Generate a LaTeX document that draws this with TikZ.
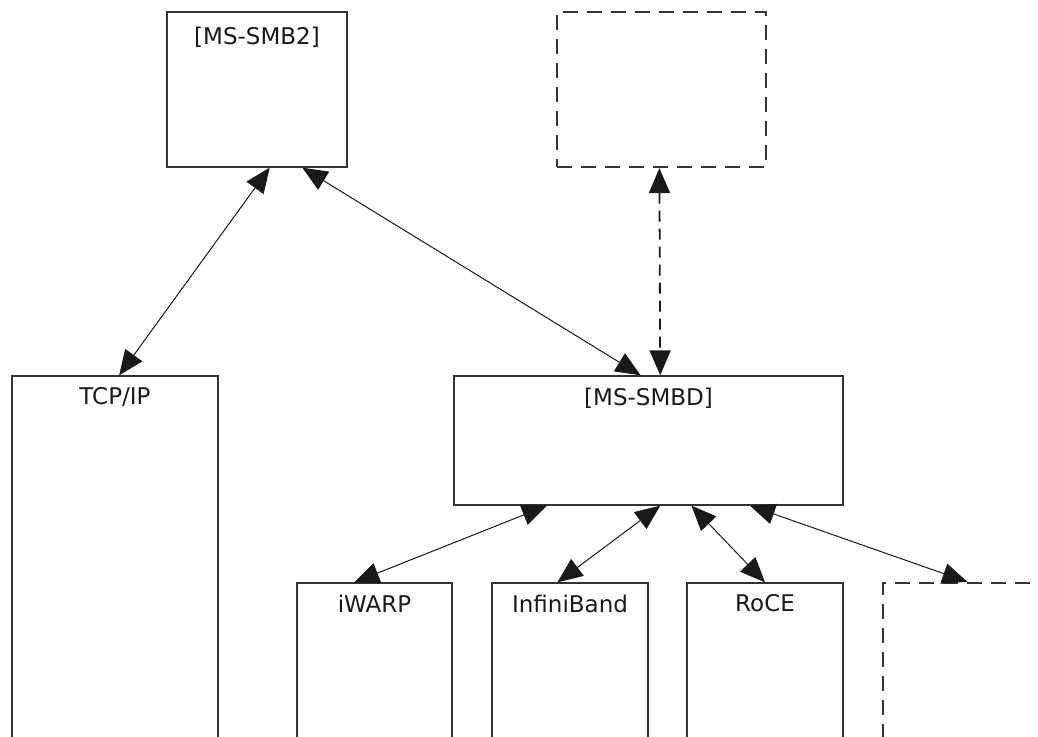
\documentclass[tikz,border=0pt]{standalone}
\usepackage{fontspec}
\setmainfont{DejaVu Sans}
\usetikzlibrary{arrows.meta,calc,positioning}

\tikzset{
  box/.style={draw=black!80,line width=1.3pt,rectangle,inner sep=0pt},
  extbox/.style={box,dash pattern=on 15pt off 9pt,line width=2.2pt},
  boxtext/.style={font=\fontsize{23}{27}\selectfont,text=black!90,inner sep=0pt,anchor=north},
  link/.style={line width=1pt,draw=black!90,
    {Triangle[length=25pt,width=21pt]}-{Triangle[length=25pt,width=21pt]}},
  extlink/.style={link,dash pattern=on 11pt off 7pt,line width=1.8pt}
}

\begin{document}
\begin{tikzpicture}[x=1pt,y=-1pt]
\useasboundingbox (0,0) rectangle (1038,736);
\clip (0,0) rectangle (1038,736);

% upper row
\node[box,minimum width=180pt,minimum height=155pt] (smb2) at (257,89.5) {};
\node[extbox,minimum width=209pt,minimum height=155pt] (ext) at (661.5,89.5) {};

% middle row
\node[box,minimum width=206pt,minimum height=424pt] (tcp) at (115,588) {};
\node[box,minimum width=389pt,minimum height=129pt] (smbd) at (648.5,440.5) {};

% transports
\node[box,minimum width=155pt,minimum height=217pt] (iwarp) at (374.5,691.5) {};
\node[box,minimum width=156pt,minimum height=217pt] (ib) at (570,691.5) {};
\node[box,minimum width=156pt,minimum height=217pt] (roce) at (765,691.5) {};
\node[extbox,minimum width=217pt,minimum height=217pt] (ext2) at (991.5,691.5) {};

% texts
\node[boxtext,below=15pt of smb2.north] (smb2t) {[MS-SMB2]};
\node[boxtext,below=12pt of tcp.north] (tcpt) {TCP/IP};
\node[boxtext,below=12pt of smbd.north] (smbdt) {[MS-SMBD]};
\node[boxtext,below=12pt of iwarp.north] (iwarpt) {iWARP};
\node[boxtext,below=12pt of ib.north] (ibt) {InfiniBand};
\node[boxtext,below=12pt of roce.north] (rocet) {RoCE};

% connectors
\draw[link] ($(smb2.south west)!0.57!(smb2.south east)$) -- ($(tcp.north west)!0.52!(tcp.north east)$);
\draw[link] ($(smb2.south west)!0.75!(smb2.south east)$) -- ($(smbd.north west)!0.48!(smbd.north east)$);
\draw[extlink] ($(ext.south west)!0.49!(ext.south east)$) -- ($(smbd.north west)!0.53!(smbd.north east)$);
\draw[link] ($(smbd.south west)!0.24!(smbd.south east)$) -- ($(iwarp.north west)!0.37!(iwarp.north east)$);
\draw[link] ($(smbd.south west)!0.53!(smbd.south east)$) -- ($(ib.north west)!0.42!(ib.north east)$);
\draw[link] ($(smbd.south west)!0.61!(smbd.south east)$) -- ($(roce.north west)!0.50!(roce.north east)$);
\draw[link] ($(smbd.south west)!0.76!(smbd.south east)$) -- ($(ext2.north west)!0.39!(ext2.north east)$);
\end{tikzpicture}
\end{document}
